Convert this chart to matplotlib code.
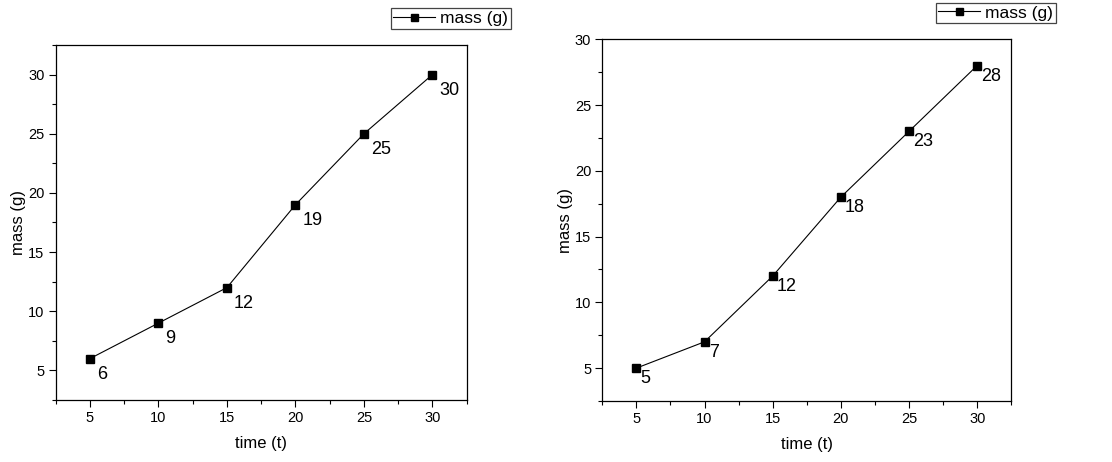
import matplotlib
matplotlib.use("Agg")
import matplotlib.pyplot as plt
from matplotlib.ticker import MultipleLocator

plt.rcParams['font.family'] = ['Liberation Sans', 'DejaVu Sans']

# data
time_t = [5, 10, 15, 20, 25, 30]
mass_left = [6, 9, 12, 19, 25, 30]
mass_right = [5, 7, 12, 18, 23, 28]
series_label = "mass (g)"
x_label = "time (t)"
y_label = "mass (g)"

fig = plt.figure(figsize=(11.12, 4.62), dpi=100)
ax1 = fig.add_axes([0.0501, 0.1342, 0.3696, 0.7684])
ax2 = fig.add_axes([0.5416, 0.1320, 0.3678, 0.7830])


def style(ax, xs, ys, ylim, off, leg_anchor):
    ax.plot(xs, ys, '-s', color='k', lw=0.8, markersize=6.3,
            label=series_label)
    for x, y in zip(xs, ys):
        ax.annotate(str(y), (x, y), xytext=off, textcoords='offset points',
                    ha='left', va='top', fontsize=13)
    ax.set_xlim(2.5, 32.5)
    ax.set_ylim(*ylim)
    ax.xaxis.set_major_locator(MultipleLocator(5))
    ax.yaxis.set_major_locator(MultipleLocator(5))
    ax.xaxis.set_minor_locator(MultipleLocator(2.5))
    ax.yaxis.set_minor_locator(MultipleLocator(2.5))
    ax.tick_params(which='major', direction='out', length=5, width=0.8,
                   labelsize=10.5, top=False, right=False, pad=3)
    ax.tick_params(which='minor', direction='out', length=3, width=0.8,
                   top=False, right=False)
    for s in ax.spines.values():
        s.set_linewidth(0.9)
    ax.set_xlabel(x_label, fontsize=12, labelpad=8)
    ax.set_ylabel(y_label, fontsize=12, labelpad=1.5)
    leg = ax.legend(loc='upper right', bbox_to_anchor=leg_anchor,
                    bbox_transform=fig.transFigure, fancybox=False,
                    edgecolor='#444444', fontsize=12.5, handlelength=2.4,
                    handletextpad=0.3, borderpad=0.15, borderaxespad=0,
                    framealpha=1, markerscale=0.8)
    leg.get_frame().set_linewidth(0.9)


style(ax1, time_t, mass_left, (2.5, 32.5), (5, -5), (0.4593, 0.982))
style(ax2, time_t, mass_right, (2.5, 30), (3, -1.5), (0.9494, 0.994))

fig.savefig("out.png", dpi=100)
